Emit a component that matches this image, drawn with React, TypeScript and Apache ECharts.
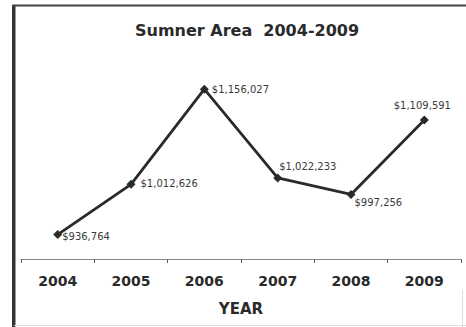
import React, { useEffect, useRef } from "react";
import * as echarts from "echarts";

const years = ["2004", "2005", "2006", "2007", "2008", "2009"];
const sales = [936764, 1012626, 1156027, 1022233, 997256, 1109591];
const chartTitle = "Sumner Area  2004-2009";
const axisName = "YEAR";

// label placement per point (style only)
const labelPlacement: { position: string; offset: number[] }[] = [
  { position: "right", offset: [-5, 2] },
  { position: "right", offset: [0, -1] },
  { position: "right", offset: [-2, 0] },
  { position: "right", offset: [-8, -11] },
  { position: "right", offset: [-6, 8] },
  { position: "top", offset: [-2, 0] },
];

const fmt = (v: number) => "$" + v.toLocaleString("en-US");

export default function App() {
  const ref = useRef<HTMLDivElement>(null);
  useEffect(() => {
    document.body.style.margin = "0";
    const chart = echarts.init(ref.current!, null, { renderer: "svg" });
    chart.setOption({
      animation: false,
      backgroundColor: "#ffffff",
      title: {
        text: chartTitle,
        left: 130,
        top: 17,
        textStyle: {
          fontFamily: "DejaVu Sans",
          fontWeight: "bold",
          fontSize: 16,
          color: "#2a2a2a",
        },
      },
      grid: { left: 21, right: 5, top: 60, bottom: 68 },
      xAxis: {
        type: "category",
        data: years,
        boundaryGap: true,
        axisLine: { lineStyle: { color: "#8a8a8a", width: 1 } },
        axisTick: { show: true, interval: 0, length: 4, lineStyle: { color: "#666" } },
        axisLabel: {
          margin: 15,
          fontFamily: "DejaVu Sans",
          fontWeight: "bold",
          fontSize: 14,
          color: "#2a2a2a",
        },
        name: axisName,
        nameLocation: "middle",
        nameGap: 42,
        nameTextStyle: {
          fontFamily: "DejaVu Sans",
          fontWeight: "bold",
          fontSize: 15,
          color: "#2a2a2a",
        },
      },
      yAxis: {
        type: "value",
        min: 900000,
        max: 1200000,
        show: false,
        splitLine: { show: false },
      },
      series: [
        {
          type: "line",
          data: sales.map((v, i) => ({
            value: v,
            label: {
              position: labelPlacement[i].position,
              offset: labelPlacement[i].offset,
            },
          })),
          symbol: "diamond",
          symbolSize: 9,
          itemStyle: { color: "#2a2a2a" },
          lineStyle: { color: "#2a2a2a", width: 2.8 },
          label: {
            show: true,
            formatter: (p: any) => fmt(p.value),
            fontFamily: "DejaVu Sans",
            fontSize: 10,
            color: "#3a3a3a",
          },
        },
      ],
      graphic: [
        { type: "rect", shape: { x: 12, y: 5, width: 3.5, height: 322 }, style: { fill: "#333" } },
        { type: "rect", shape: { x: 12, y: 4.5, width: 454, height: 2 }, style: { fill: "#444" } },
        { type: "line", shape: { x1: 462.5, y1: 290, x2: 462.5, y2: 327 }, style: { stroke: "#ddd", lineWidth: 1 } },
        { type: "line", shape: { x1: 14, y1: 325.5, x2: 466, y2: 325.5 }, style: { stroke: "#ddd", lineWidth: 1 } },
      ],
    });
    return () => chart.dispose();
  }, []);
  return (
    <div
      ref={ref}
      style={{ position: "absolute", left: 0, top: 0, width: 466, height: 327 }}
    />
  );
}
